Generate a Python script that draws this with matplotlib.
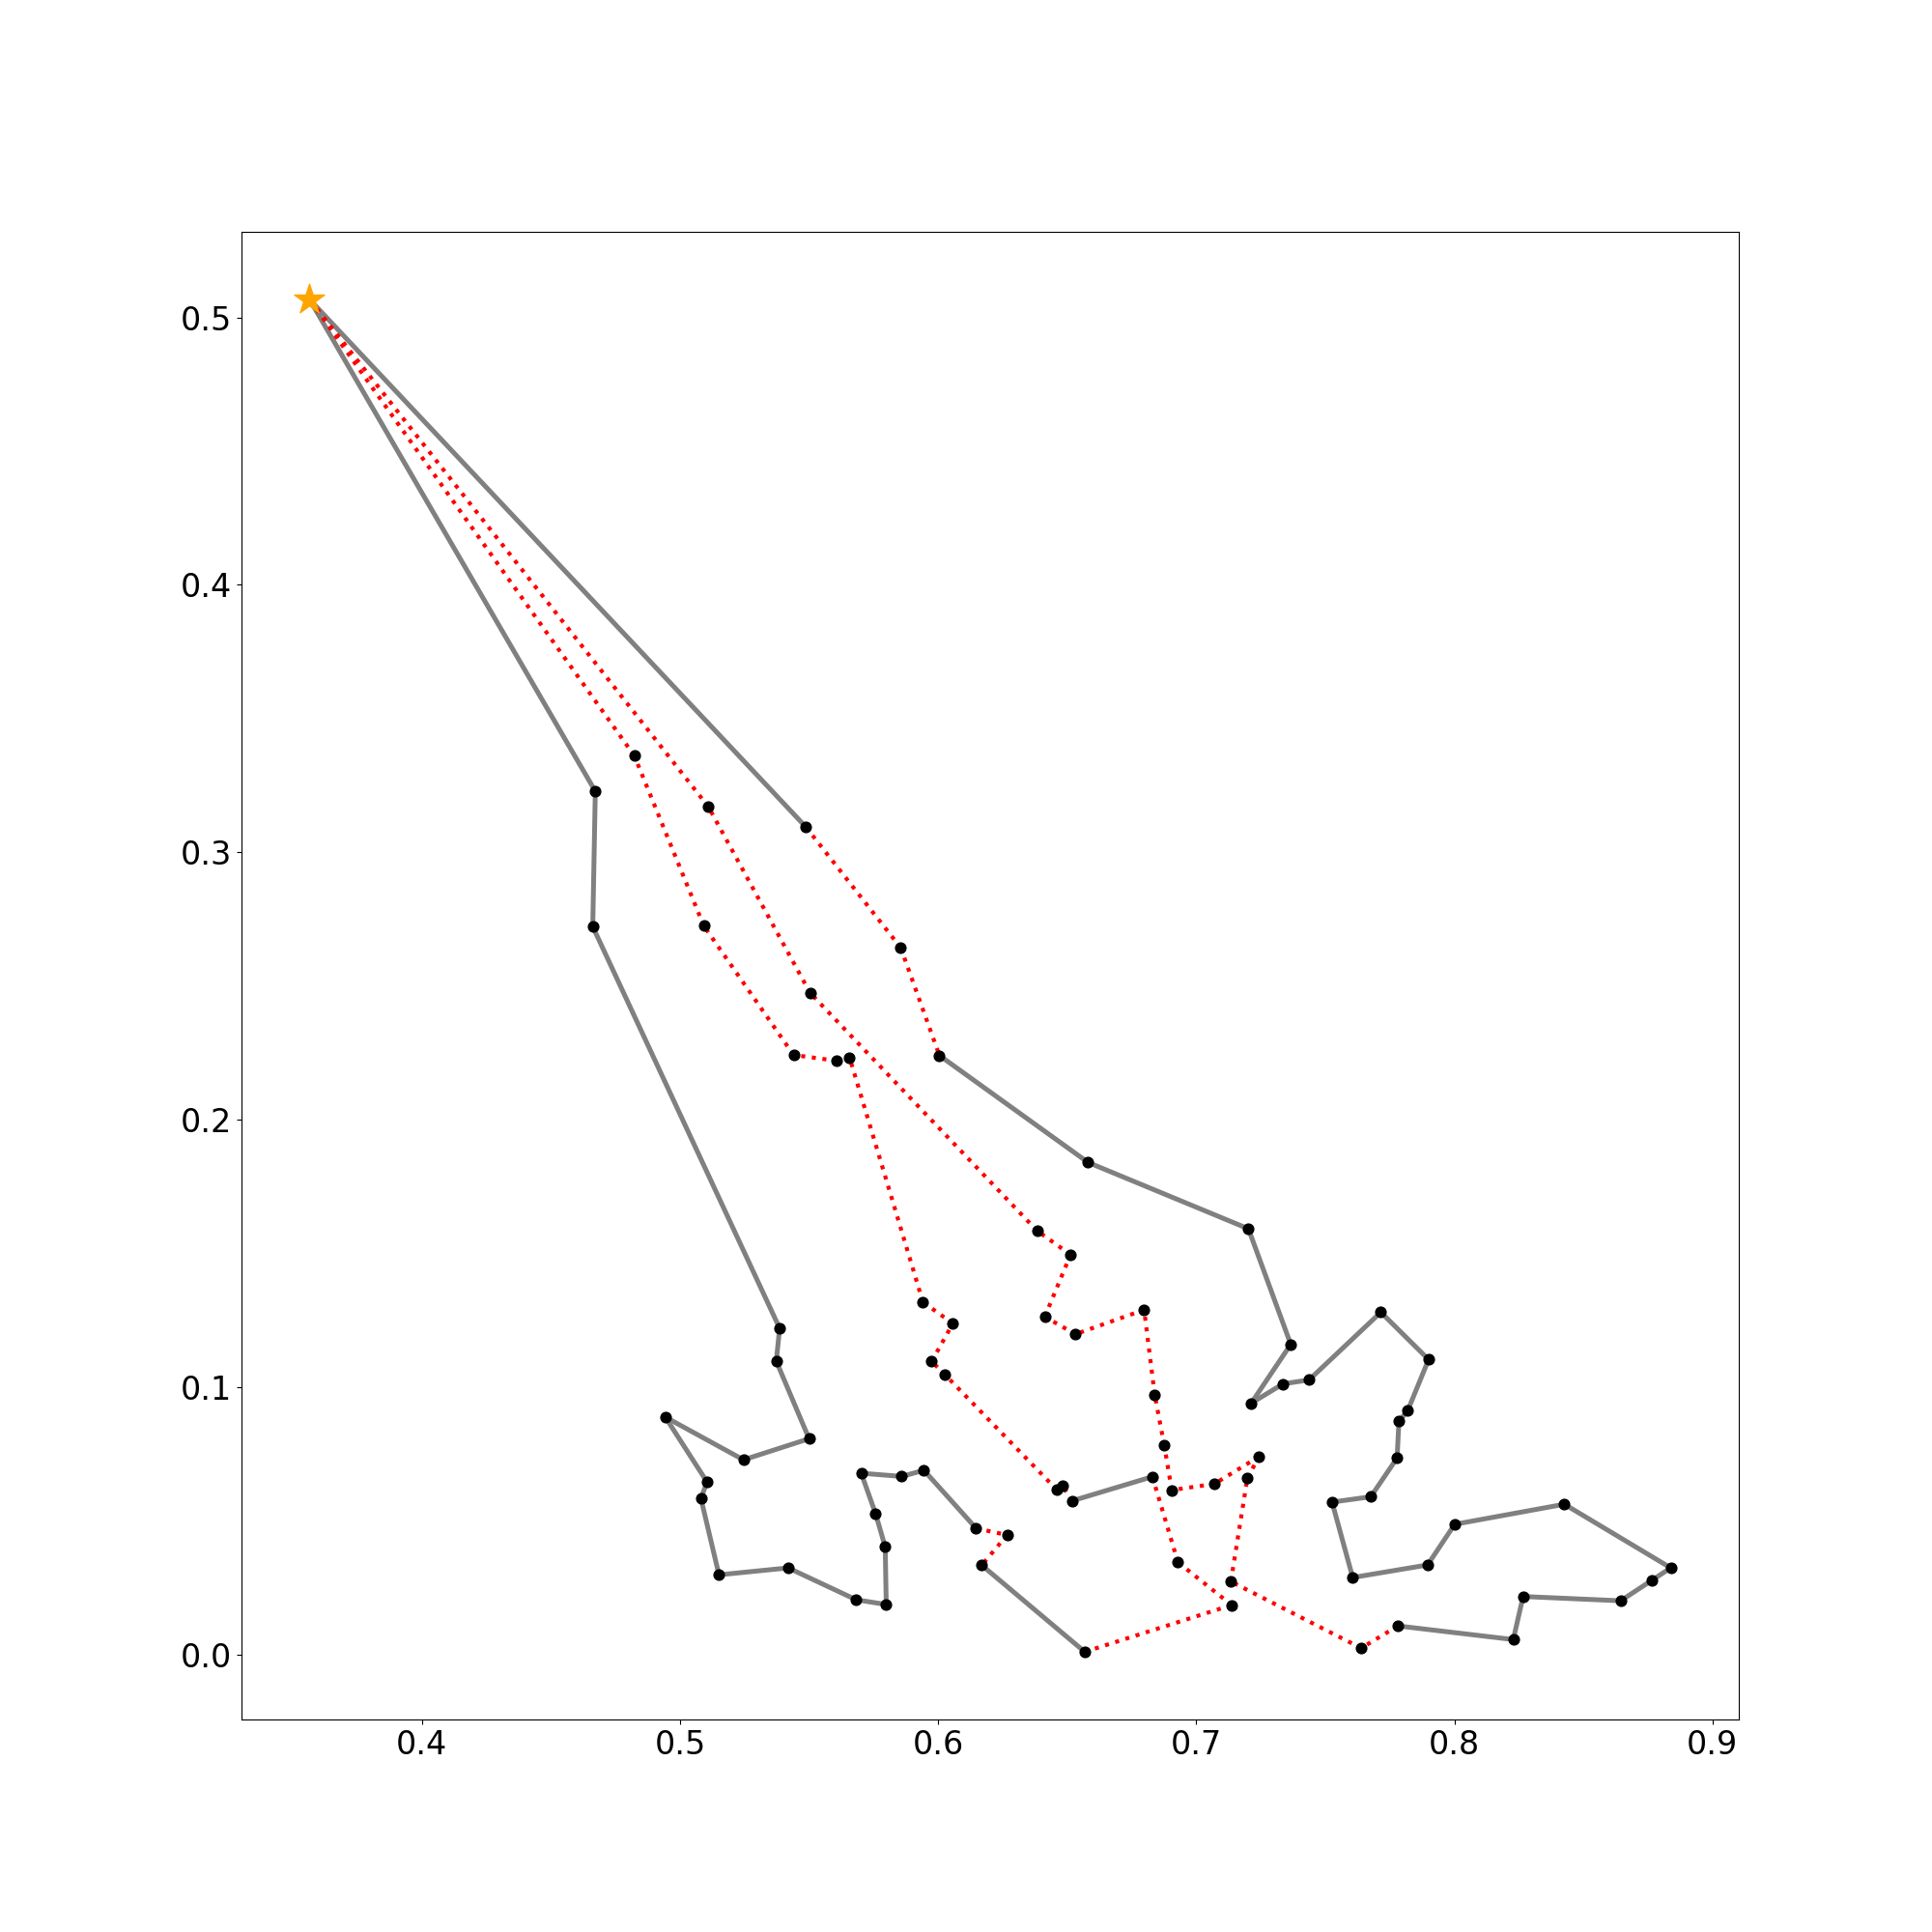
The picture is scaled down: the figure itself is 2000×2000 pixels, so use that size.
import matplotlib.pyplot as plt

depot_x = 0.3565
depot_y = 0.5067

# route 1 (left side), depot at both ends
route1_x = [0.3565, 0.4672, 0.4662, 0.5386, 0.5373, 0.5500, 0.5246, 0.4943, 0.5105, 0.5081,
            0.5151, 0.5419, 0.5682, 0.5799, 0.5795, 0.5758, 0.5702, 0.5859, 0.5945, 0.6147,
            0.6267, 0.6169, 0.6568, 0.7137, 0.6929, 0.6830, 0.6520, 0.6482, 0.6460, 0.6027,
            0.5975, 0.6057, 0.5941, 0.5657, 0.5608, 0.5440, 0.5092, 0.4823, 0.3565]
route1_y = [0.5067, 0.3228, 0.2722, 0.1220, 0.1097, 0.0807, 0.0728, 0.0888, 0.0645, 0.0584,
            0.0298, 0.0324, 0.0205, 0.0187, 0.0402, 0.0526, 0.0678, 0.0666, 0.0689, 0.0472,
            0.0447, 0.0334, 0.0010, 0.0185, 0.0345, 0.0665, 0.0575, 0.0630, 0.0616, 0.1046,
            0.1096, 0.1238, 0.1318, 0.2232, 0.2220, 0.2242, 0.2725, 0.3361, 0.5067]
# 1 = changed edge (red dotted), 0 = kept edge (grey)
route1_changed = [0] * 19 + [1, 1, 0, 1, 1, 1, 0] + [1] * 12

# route 2 (right side)
route2_x = [0.3565, 0.5488, 0.5855, 0.6005, 0.6581, 0.7202, 0.7366, 0.7213, 0.7336, 0.7437,
            0.7715, 0.7900, 0.7819, 0.7785, 0.7778, 0.7676, 0.7526, 0.7606, 0.7896, 0.8001,
            0.8426, 0.8838, 0.8764, 0.8644, 0.8266, 0.8228, 0.7781, 0.7639, 0.7134, 0.7198,
            0.7243, 0.7070, 0.6905, 0.6876, 0.6839, 0.6798, 0.6532, 0.6413, 0.6513, 0.6383,
            0.5504, 0.5110, 0.3565]
route2_y = [0.5067, 0.3094, 0.2643, 0.2240, 0.1840, 0.1592, 0.1160, 0.0940, 0.1012, 0.1027,
            0.1280, 0.1103, 0.0912, 0.0872, 0.0735, 0.0590, 0.0570, 0.0288, 0.0335, 0.0487,
            0.0562, 0.0324, 0.0277, 0.0201, 0.0217, 0.0056, 0.0107, 0.0024, 0.0273, 0.0660,
            0.0740, 0.0638, 0.0615, 0.0782, 0.0971, 0.1289, 0.1198, 0.1263, 0.1495, 0.1585,
            0.2474, 0.3170, 0.5067]
route2_changed = [0, 1, 1] + [0] * 23 + [1] * 16

routes = [(route1_x, route1_y, route1_changed), (route2_x, route2_y, route2_changed)]

fig, ax = plt.subplots(figsize=(20, 20), dpi=100)

for rx, ry, changed in routes:
    for i in range(len(rx) - 1):
        if changed[i]:
            ax.plot(rx[i:i + 2], ry[i:i + 2], color='red', linestyle=':', linewidth=3, zorder=2)
        else:
            ax.plot(rx[i:i + 2], ry[i:i + 2], color='grey', linestyle='-', linewidth=3.6, zorder=1)
    ax.scatter(rx[1:-1], ry[1:-1], color='black', s=60, zorder=3)

ax.scatter([depot_x], [depot_y], marker='*', color='orange', s=550, zorder=4)

ax.tick_params(labelsize=24)

plt.savefig('out.png')
